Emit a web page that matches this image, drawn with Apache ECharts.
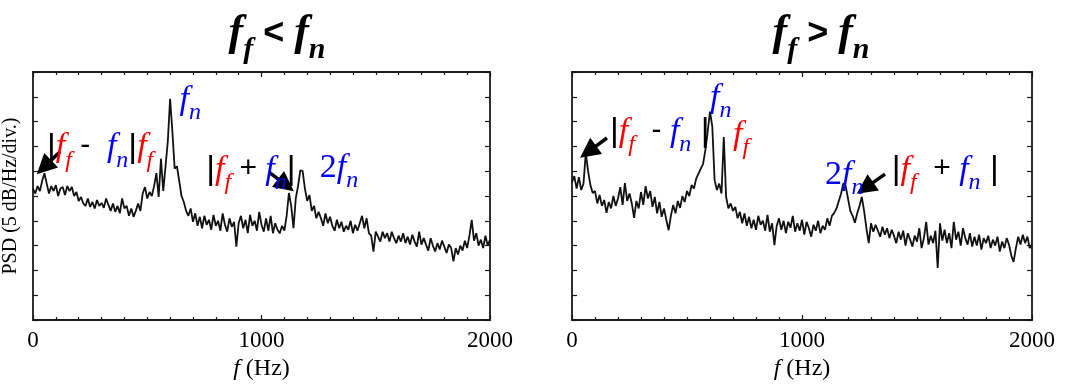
<!DOCTYPE html>
<html>
<head>
<meta charset="utf-8">
<script src="https://cdn.jsdelivr.net/npm/echarts@6/dist/echarts.min.js"></script>
<style>html,body{margin:0;padding:0;background:#fff}#c{width:1075px;height:391px}</style>
</head>
<body>
<div id="c"></div>
<script>
// frequency grid (Hz), 10 Hz steps
const freqStart = 0, freqStep = 10, freqCount = 201;
const xTickLabels = ['0', '1000', '2000'];
// PSD (dB, arbitrary offset; 5 dB per division)
const psdBelow = [
26.5,25.5,27.0,26.0,28.0,29.6,27.5,25.5,27.0,26.0,
27.2,25.0,26.5,26.8,25.2,27.0,26.0,26.8,25.0,25.8,
24.0,24.8,23.5,23.0,24.5,22.8,23.8,22.5,24.2,23.0,
23.6,22.6,24.5,23.2,22.0,23.5,21.8,23.0,21.5,24.5,
22.5,23.0,21.0,22.5,20.8,22.0,23.5,22.0,25.5,26.8,
24.5,25.8,25.0,27.0,29.6,24.8,32.5,26.0,31.0,36.0,
44.6,38.0,30.5,31.0,28.0,25.0,23.8,22.0,21.0,22.5,
19.8,21.5,19.0,20.8,18.5,21.0,19.2,20.2,18.2,21.2,
19.0,20.0,18.0,21.5,19.2,17.8,20.5,18.8,19.8,14.8,
19.5,21.0,18.5,20.2,17.5,21.2,19.0,20.0,18.0,21.8,
19.2,17.8,20.5,18.0,21.0,17.5,19.5,18.2,17.5,19.0,
18.0,21.0,25.6,23.0,18.5,24.5,27.0,30.2,30.0,26.5,
24.0,25.2,22.0,23.0,20.5,21.8,20.5,19.0,21.5,19.5,
20.8,19.0,18.0,20.2,18.5,19.8,17.8,19.0,18.2,20.0,
17.5,19.2,18.0,19.5,21.0,18.5,20.5,17.5,17.0,13.8,
17.8,16.8,15.8,17.8,16.5,17.5,15.8,17.8,16.5,15.5,
17.0,15.8,17.5,15.5,16.8,15.2,17.2,15.8,14.8,17.8,
15.2,16.5,15.2,14.0,16.5,15.0,13.8,15.5,14.2,16.0,
14.8,13.5,15.2,14.5,11.8,14.5,13.2,15.0,14.0,16.0,
14.5,17.0,20.2,16.0,17.5,15.0,16.2,14.5,17.0,15.0,
16.2
];
const psdAbove = [
27.8,29.0,26.5,28.8,26.2,27.5,33.7,30.0,27.2,25.6,
26.0,23.5,25.2,23.0,24.2,21.6,23.8,22.5,25.0,23.0,
24.5,26.8,23.2,27.6,24.0,25.5,23.5,20.6,24.0,22.5,
25.8,23.2,27.0,24.5,26.0,22.8,24.8,21.5,23.8,20.8,
22.5,20.2,18.1,21.0,23.2,21.5,24.0,22.6,25.0,23.8,
26.0,25.0,27.2,26.5,28.5,29.5,30.5,31.5,34.3,38.0,
42.0,39.0,28.2,26.2,27.5,25.5,36.9,24.8,22.5,23.5,
22.0,22.8,20.5,21.8,19.5,21.5,19.0,20.8,18.5,20.2,
18.2,21.0,19.2,20.0,18.0,21.2,17.8,19.5,15.1,19.0,
20.5,18.2,20.0,17.5,19.8,18.6,21.0,17.8,19.5,18.0,
20.2,17.2,19.8,18.5,16.8,19.2,18.0,20.0,17.5,19.0,
18.2,20.5,19.0,21.0,21.6,22.5,24.0,25.5,27.6,27.0,
24.5,22.0,21.0,19.6,21.5,23.0,24.8,22.0,18.5,15.5,
19.5,17.8,19.2,18.0,16.8,18.8,17.2,18.5,16.5,18.2,
17.0,15.5,17.8,16.2,18.0,15.0,17.5,16.2,14.8,17.0,
15.8,18.5,14.5,16.5,19.8,15.2,17.0,15.5,18.0,10.5,
19.5,16.0,18.2,15.5,17.5,14.5,19.8,16.2,17.8,15.0,
18.5,16.5,15.2,17.5,14.8,16.8,15.0,17.2,14.2,16.5,
15.5,17.0,14.5,16.2,15.0,16.8,13.8,15.8,14.5,16.5,
15.2,13.0,11.7,14.5,16.8,15.2,17.2,15.5,16.8,14.5,
15.2
];
const freqs = [];
for (let i = 0; i < freqCount; i++) freqs.push(freqStart + i * freqStep);
const pairs = vals => freqs.map((f, i) => [f, vals[i]]);

const SERIF = 'Liberation Serif';
const SANS = 'Liberation Sans';
const rich = {
  fr: {fontFamily: SERIF, fontStyle: 'italic', fontSize: 34, color: '#ff0000', verticalAlign: 'bottom', lineHeight: 34, padding: [0,0,8,0]},
  sr: {fontFamily: SERIF, fontStyle: 'italic', fontSize: 24, color: '#ff0000', verticalAlign: 'bottom', lineHeight: 24},
  fb: {fontFamily: SERIF, fontStyle: 'italic', fontSize: 34, color: '#0000ff', verticalAlign: 'bottom', lineHeight: 34, padding: [0,0,8,0]},
  sb: {fontFamily: SERIF, fontStyle: 'italic', fontSize: 24, color: '#0000ff', verticalAlign: 'bottom', lineHeight: 24},
  nb: {fontFamily: SERIF, fontSize: 34, color: '#0000ff', verticalAlign: 'bottom', lineHeight: 34, padding: [0,0,8,0]},
  bar: {fontFamily: SANS, fontSize: 34, color: '#000', verticalAlign: 'bottom', lineHeight: 34, padding: [0,0,8,0]},
  op: {fontFamily: SANS, fontSize: 30, color: '#000', verticalAlign: 'bottom', lineHeight: 30, padding: [0,0,11,0]}
};
const lbl = (hz, db, text) => ({
  coord: [hz, db], symbol: 'circle', symbolSize: 0,
  label: {show: true, position: [0, 0], align: 'left', verticalAlign: 'bottom', formatter: text, rich: rich}
});
const arrow = (x1, y1, x2, y2) => [{coord: [x1, y1]}, {coord: [x2, y2]}];

const titleRich = {
  f: {fontFamily: SERIF, fontStyle: 'italic', fontWeight: 'bold', fontSize: 44, color: '#000', verticalAlign: 'bottom', lineHeight: 44, padding: [0,0,9,0]},
  s: {fontFamily: SERIF, fontStyle: 'italic', fontWeight: 'bold', fontSize: 30, color: '#000', verticalAlign: 'bottom', lineHeight: 30},
  o: {fontFamily: SANS, fontWeight: 'bold', fontSize: 36, color: '#000', verticalAlign: 'bottom', lineHeight: 36, padding: [0,0,13,0]}
};

const axisColor = '#1a1a1a';
function xAx(gi, pos, showLabel) {
  return {
    type: 'value', gridIndex: gi, position: pos, min: 0, max: 2000, interval: 1000,
    axisLine: {show: true, onZero: false, lineStyle: {color: axisColor, width: 1.8}},
    axisTick: {show: true, inside: true, length: 5, lineStyle: {color: axisColor, width: 1.2}},
    minorTick: {show: true, splitNumber: 10, length: 3, lineStyle: {color: axisColor, width: 1.2}},
    splitLine: {show: false}, minorSplitLine: {show: false},
    axisLabel: {show: showLabel, margin: 9, fontFamily: SERIF, fontSize: 23, color: '#000',
      formatter: v => xTickLabels[Math.round(v / 1000)] || ''},
    name: showLabel ? '{i|f} (Hz)' : '', nameLocation: 'middle', nameGap: 36,
    nameTextStyle: {fontFamily: SERIF, fontSize: 24, color: '#000',
      rich: {i: {fontFamily: SERIF, fontStyle: 'italic', fontSize: 24, color: '#000'}}}
  };
}
function yAx(gi, pos, name) {
  return {
    type: 'value', gridIndex: gi, position: pos, min: 0, max: 50, interval: 5,
    axisLine: {show: true, onZero: false, lineStyle: {color: axisColor, width: 1.8}},
    axisTick: {show: true, inside: true, length: 5, lineStyle: {color: axisColor, width: 1.2}},
    splitLine: {show: false},
    axisLabel: {show: false},
    name: name || '', nameLocation: 'middle', nameGap: 12, nameRotate: 90,
    nameTextStyle: {fontFamily: SERIF, fontSize: 20, color: '#000'}
  };
}

const chart = echarts.init(document.getElementById('c'), null, {renderer: 'canvas'});
chart.setOption({
  animation: false,
  backgroundColor: '#fff',
  title: [
    {text: '{f|f}{s|f}{o| < }{f|f}{s|n}', left: 272, top: 16, textAlign: 'center', textStyle: {rich: titleRich}},
    {text: '{f|f}{s|f}{o| > }{f|f}{s|n}', left: 816, top: 16, textAlign: 'center', textStyle: {rich: titleRich}}
  ],
  grid: [
    {left: 31, top: 72, width: 459, height: 248},
    {left: 572, top: 72, width: 460, height: 248}
  ],
  xAxis: [xAx(0, 'bottom', true), xAx(0, 'top', false), xAx(1, 'bottom', true), xAx(1, 'top', false)],
  yAxis: [yAx(0, 'left', 'PSD (5 dB/Hz/div.)'), yAx(0, 'right'), yAx(1, 'left'), yAx(1, 'right')],
  series: [
    {
      type: 'line', xAxisIndex: 0, yAxisIndex: 0, data: pairs(psdBelow), showSymbol: false,
      lineStyle: {color: '#111', width: 1.8}, z: 3,
      markPoint: {silent: true, data: [
        lbl(61, 29.8, '{bar||}{fr|f}{sr|f}{op| -  }{fb|f}{sb|n}{bar||}{fr|f}{sr|f}'),
        lbl(641, 39.3, '{fb|f}{sb|n}'),
        lbl(758, 25.2, '{bar||}{fr|f}{sr|f}{op| + }{fb|f}{sb|n}{bar||}'),
        lbl(1255, 25.6, '{nb|2}{fb|f}{sb|n}')
      ]},
      markLine: {silent: true, symbol: ['none', 'triangle'], symbolSize: 20,
        lineStyle: {color: '#000', width: 3.5, type: 'solid'}, label: {show: false},
        data: [arrow(118, 33.9, 48, 30.8), arrow(1033, 29.8, 1107, 27.2)]}
    },
    {
      type: 'line', xAxisIndex: 2, yAxisIndex: 2, data: pairs(psdAbove), showSymbol: false,
      lineStyle: {color: '#111', width: 1.8}, z: 3,
      markPoint: {silent: true, data: [
        lbl(165, 32.9, '{bar||}{fr|f}{sr|f}{op|  - }{fb|f}{sb|n}{bar| |}'),
        lbl(600, 39.7, '{fb|f}{sb|n}'),
        lbl(700, 32.3, '{fr|f}{sr|f}'),
        lbl(1100, 24.2, '{nb|2}{fb|f}{sb|n}'),
        lbl(1390, 25.2, '{bar||}{fr|f}{sr|f}{op|  + }{fb|f}{sb|n}{bar| |}')
      ]},
      markLine: {silent: true, symbol: ['none', 'triangle'], symbolSize: 20,
        lineStyle: {color: '#000', width: 3.5, type: 'solid'}, label: {show: false},
        data: [arrow(152, 36.7, 70, 33.9), arrow(1361, 29.4, 1274, 26.6)]}
    }
  ]
});
</script>
</body>
</html>
